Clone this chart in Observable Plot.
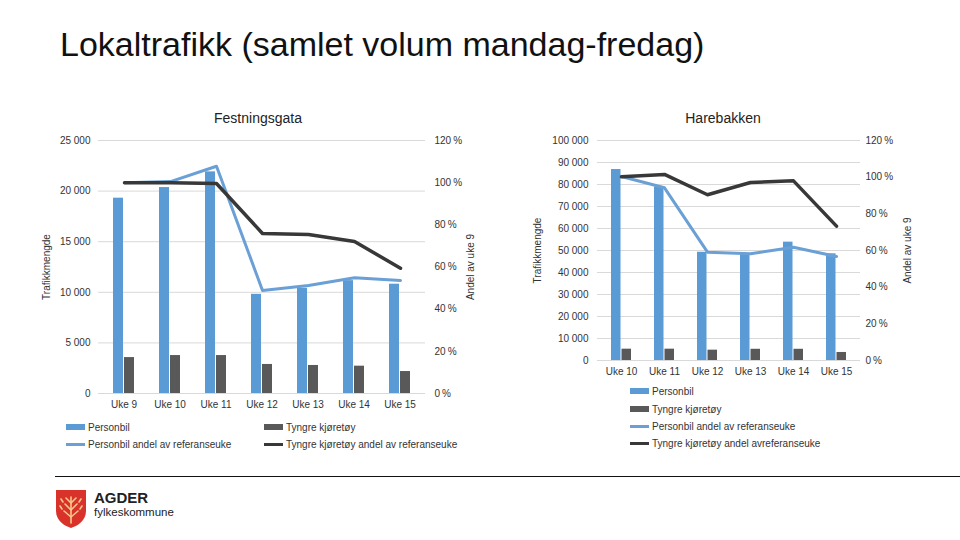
<!DOCTYPE html>
<html><head><meta charset="utf-8">
<script src="https://cdn.jsdelivr.net/npm/d3@7"></script>
<script src="https://cdn.jsdelivr.net/npm/@observablehq/plot@0.6"></script>
<style>
body{margin:0;width:960px;height:540px;position:relative;background:#fff;font-family:"Liberation Sans",Arial,sans-serif;overflow:hidden}
.abs{position:absolute}
#title{left:60px;top:25px;font-size:34px;color:#111;white-space:nowrap}
.ctitle{font-size:14px;color:#222;transform:translateX(-50%);white-space:nowrap}
.leg{font-size:10px;color:#333;display:flex;align-items:center;white-space:nowrap;height:12px}
.sw{display:inline-block;width:19px;margin-right:3px}
.chart svg{overflow:visible}
</style></head><body>
<div id="title" class="abs">Lokaltrafikk (samlet volum mandag-fredag)</div>
<div class="abs ctitle" style="left:258px;top:110px">Festningsgata</div>
<div class="abs ctitle" style="left:723px;top:110px">Harebakken</div>
<div id="c1" class="abs chart" style="left:30px;top:130px;width:460px;height:290px"></div>
<div id="c1b" class="abs chart" style="left:30px;top:130px;width:460px;height:290px"></div>
<div id="c2" class="abs chart" style="left:520px;top:130px;width:420px;height:260px"></div>
<div id="c2b" class="abs chart" style="left:520px;top:130px;width:420px;height:260px"></div>
<div id="legs"></div>
<div class="abs" style="left:55px;top:476px;width:905px;height:0;border-top:1.5px solid #111"></div>
<div class="abs" style="left:55px;top:489px">
<svg width="32" height="40" viewBox="0 0 32 40">
<path d="M1 1 H31 V22 C31 32 22 37 16 39 C10 37 1 32 1 22 Z" fill="#d8322a"/>
<g stroke="#f6c98a" stroke-width="1.6" fill="none" stroke-linecap="round">
<path d="M16 34 V8"/><path d="M16 28 L9 22 M16 28 L23 22 M16 21 L10 15 M16 21 L22 15 M16 14 L11 9 M16 14 L21 9"/>
<path d="M7 20 L5 17 M25 20 L27 17 M8 13 L6 10 M24 13 L26 10"/>
</g></svg></div>
<div class="abs" style="left:94px;top:491px;font-family:'Liberation Sans',Arial;font-weight:bold;font-size:15px;line-height:14px;color:#222">AGDER</div>
<div class="abs" style="left:94px;top:506px;font-family:'Liberation Sans',Arial;font-size:11.5px;line-height:12px;color:#222">fylkeskommune</div>
<script>
// Festningsgata
const fWeeks = ["Uke 9","Uke 10","Uke 11","Uke 12","Uke 13","Uke 14","Uke 15"];
const fPersonbil = [19300, 20350, 21900, 9800, 10400, 11150, 10800];
const fTyngre = [3550, 3750, 3750, 2870, 2770, 2700, 2170];
const fPersonbilPct = [100, 100.5, 107.8, 48.9, 51.2, 54.9, 53.6];
const fTyngrePct = [100, 100, 99.6, 75.9, 75.4, 72.1, 59.4];
const fTicks = [0, 5000, 10000, 15000, 20000, 25000];
// Harebakken
const hWeeks = ["Uke 10","Uke 11","Uke 12","Uke 13","Uke 14","Uke 15"];
const hPersonbil = [86800, 78800, 49200, 48600, 53800, 48500];
const hTyngre = [5150, 5150, 4700, 5100, 5100, 3650];
const hPersonbilPct = [100.4, 94.2, 59.1, 58.2, 61.8, 56.7];
const hTyngrePct = [100.2, 101.5, 90.4, 97.1, 98, 73.3];
const hTicks = [0,10000,20000,30000,40000,50000,60000,70000,80000,90000,100000];
const pctTicks = [0, 20, 40, 60, 80, 100, 120];

const C_PB = "#5b9bd5", C_TY = "#595959", C_PBL = "#6aa0d6", C_TYL = "#383838";
const fmtN = d => d3.format(",")(d).replace(/,/g, "\u00a0");
const style = {fontFamily: "'Liberation Sans', Arial, sans-serif", fontSize: "10px", color: "#333", background: "transparent", overflow: "visible"};

function draw(el, elb, o) {
  const rows = o.weeks.map((w, i) => ({week: w, pb: o.pb[i], ty: o.ty[i], pbPct: o.pbPct[i], tyPct: o.tyPct[i]}));
  const xs = {domain: o.weeks, paddingInner: o.pad, paddingOuter: o.pad / 2};
  const dims = {width: o.width, height: o.height, marginLeft: o.ml, marginRight: o.mr, marginTop: o.mt, marginBottom: o.mb};
  const base = Plot.plot({
    ...dims, style,
    x: {...xs, label: null},
    y: {domain: [0, o.ymax], label: null},
    marks: [
      Plot.gridY(o.ticks, {stroke: "#d9d9d9", strokeOpacity: 1}),
      Plot.axisY(o.ticks, {tickSize: 0, tickPadding: o.lpad, tickFormat: fmtN, label: "Trafikkmengde", labelAnchor: "center", labelArrow: "none", labelOffset: o.lOff}),
      Plot.axisX({tickSize: 0, tickPadding: 7, label: null}),
      Plot.barY(rows, {x: "week", y: "pb", fill: C_PB, insetRight: o.inset}),
      Plot.barY(rows, {x: "week", y: "ty", fill: C_TY, insetLeft: o.inset})
    ]
  });
  document.getElementById(el).append(base);
  const over = Plot.plot({
    ...dims, style,
    x: {...xs, axis: null},
    y: {domain: [0, 120], label: null},
    marks: [
      Plot.axisY(pctTicks, {anchor: "right", tickSize: 0, tickPadding: o.rpad, tickFormat: d => d + "\u2009%", label: "Andel av uke 9", labelAnchor: "center", labelArrow: "none", labelOffset: o.rOff}),
      Plot.line(rows, {x: "week", y: "pbPct", stroke: C_PBL, strokeWidth: 3}),
      Plot.line(rows, {x: "week", y: "tyPct", stroke: C_TYL, strokeWidth: 3.5})
    ]
  });
  document.getElementById(elb).append(over);
}

draw("c1", "c1b", {weeks: fWeeks, pb: fPersonbil, ty: fTyngre, pbPct: fPersonbilPct, tyPct: fTyngrePct, ticks: fTicks, ymax: 25000,
  width: 460, height: 290, ml: 68, mr: 65, mt: 10, mb: 27, pad: 0.55, inset: 11, lpad: 8, rpad: 9, lOff: 56, rOff: 48});
draw("c2", "c2b", {weeks: hWeeks, pb: hPersonbil, ty: hTyngre, pbPct: hPersonbilPct, tyPct: hTyngrePct, ticks: hTicks, ymax: 100000,
  width: 420, height: 260, ml: 77, mr: 80, mt: 10, mb: 30, pad: 0.543, inset: 10.5, lpad: 9, rpad: 5, lOff: 64, rOff: 50});

// Legends
const legItems = [
  {x: 66, y: 421, label: "Personbil", color: C_PB, h: 6},
  {x: 264, y: 421, label: "Tyngre kjøretøy", color: C_TY, h: 6},
  {x: 66, y: 438, label: "Personbil andel av referanseuke", color: C_PBL, h: 3},
  {x: 264, y: 438, label: "Tyngre kjøretøy andel av referanseuke", color: C_TYL, h: 3},
  {x: 630, y: 385, label: "Personbil", color: C_PB, h: 6},
  {x: 630, y: 403, label: "Tyngre kjøretøy", color: C_TY, h: 6},
  {x: 630, y: 420, label: "Personbil andel av referanseuke", color: C_PBL, h: 3},
  {x: 630, y: 437, label: "Tyngre kjøretøy andel avreferanseuke", color: C_TYL, h: 3}
];
const legs = document.getElementById("legs");
for (const it of legItems) {
  const d = document.createElement("div");
  d.className = "abs leg";
  d.style.left = it.x + "px"; d.style.top = it.y + "px";
  d.innerHTML = `<span class="sw" style="height:${it.h}px;background:${it.color}"></span><span>${it.label}</span>`;
  legs.append(d);
}
</script>
</body></html>
